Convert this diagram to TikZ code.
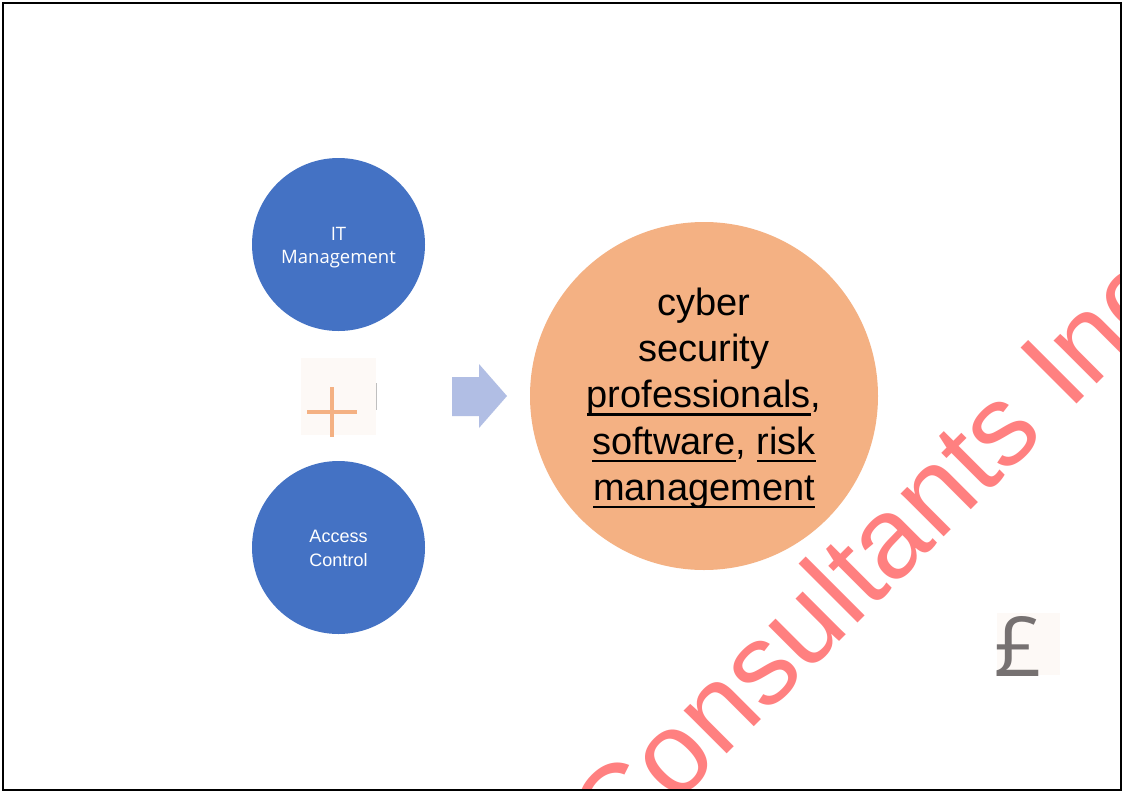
\documentclass[tikz,border=0pt]{standalone}
\usepackage{fontspec}
\setmainfont{Liberation Sans}
\newfontfamily\osans{Open Sans}
\usetikzlibrary{calc}
\definecolor{blueC}{HTML}{4472C4}
\definecolor{orangeC}{HTML}{F4B183}
\definecolor{arrowC}{HTML}{B1BEE4}
\definecolor{paleC}{HTML}{FDF9F6}
\definecolor{poundC}{HTML}{767171}
\definecolor{markC}{HTML}{FF8080}
\newlength\ulw
\newcommand\wul[1]{\settowidth\ulw{#1}\rlap{\rule[-8pt]{\ulw}{2.3pt}}#1}
\tikzset{
  bluecirc/.style={circle, fill=blueC, draw=none, minimum size=173pt, inner sep=0pt},
  bluetxt/.style={text=white, align=center, inner sep=0pt},
  palebox/.style={rectangle, fill=paleC, draw=none, inner sep=0pt},
  plusline/.style={draw=orangeC, line width=4pt},
}
\begin{document}
\begin{tikzpicture}[x=1pt,y=-1pt]
\useasboundingbox (0,0) rectangle (1125,793);
\fill[white] (0,0) rectangle (1125,793);
% blue circles
\node[bluecirc] (itm) at (338.5,244.5) {};
\node[bluetxt, font=\osans\fontsize{18.5}{23.5}\selectfont] (itmlabel) at (338.5,247.5) {IT\\Management};
\node[bluecirc] (ac) at (338.5,547.5) {};
\node[bluetxt, font=\fontsize{18}{24}\selectfont] (aclabel) at (338.5,548.5) {Access\\Control};
% plus box
\node[palebox, minimum width=75pt, minimum height=77pt] (plusbox) at (338.5,396.5) {};
\draw[black!25, line width=1pt] (376,383) -- (376,410);
\coordinate (pc) at (332,412);
\draw[plusline] ($(pc)+(-25,0)$) -- ($(pc)+(25,0)$);
\draw[plusline] ($(pc)+(0,-25)$) -- ($(pc)+(0,25)$);
% arrow
\fill[arrowC] (452,377) -- (479,377) -- (479,364) -- (507,396) -- (479,428) -- (479,416) -- (452,416) -- cycle;
% orange circle
\node[circle, fill=orangeC, minimum size=348pt, inner sep=0pt] (cyber) at (704,396) {};
\node[align=center, inner sep=0pt, font=\fontsize{38}{46.3}\selectfont] (cyberlabel) at (704,398)
  {cyber\\security\\\wul{professionals},\\\wul{software}, \wul{risk}\\\wul{management}};
% pound box
\node[palebox, minimum width=63pt, minimum height=62pt] (poundbox) at (1028.5,644) {};
\node[anchor=base west, inner sep=0pt, text=poundC, font=\osans\fontsize{83}{83}\selectfont] (pound) at (994,676) {£};
% watermark
\begin{scope}
\clip (3,3) rectangle (1121,790);
\node[anchor=base west, inner sep=0pt, rotate=45, text=markC, font=\fontsize{115}{115}\selectfont] (mark) at (617,864) {Consultants Inc};
\end{scope}
% frame
\draw[black, line width=2.5pt] (3,3) rectangle (1121,790);
\end{tikzpicture}
\end{document}
